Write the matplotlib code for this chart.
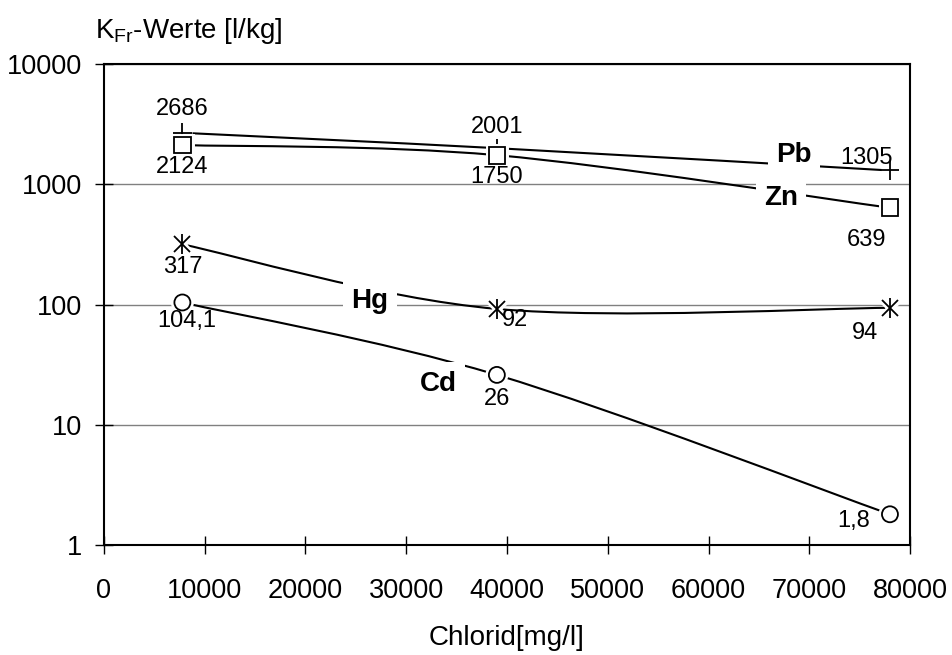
import numpy as np
import matplotlib
matplotlib.use("Agg")
import matplotlib.pyplot as plt
import matplotlib.patheffects as pe
from matplotlib.path import Path
from matplotlib.patches import PathPatch

plt.rcParams['font.family'] = ['Liberation Sans', 'DejaVu Sans']
plt.rcParams['mathtext.fontset'] = 'custom'
plt.rcParams['mathtext.rm'] = 'Liberation Sans'

# Chlorid concentration [mg/l]
chlorid = [7800, 39000, 78000]

# K_Fr values [l/kg] per metal
pb = [2686, 2001, 1305]
zn = [2124, 1750, 639]
hg = [317, 92, 94]
cd = [104.1, 26, 1.8]

pb_labels = ['2686', '2001', '1305']
zn_labels = ['2124', '1750', '639']
hg_labels = ['317', '92', '94']
cd_labels = ['104,1', '26', '1,8']

xticks = [0, 10000, 20000, 30000, 40000, 50000, 60000, 70000, 80000]
yticks = [1, 10, 100, 1000, 10000]


def smooth_path(xs, ys):
    # Catmull-Rom style Bezier segments, computed in log-y space
    lx = np.asarray(xs, float)
    ly = np.log10(np.asarray(ys, float))
    n = len(lx)
    verts = [(lx[0], ly[0])]
    codes = [Path.MOVETO]
    for i in range(n - 1):
        a = max(i - 1, 0)
        b = min(i + 2, n - 1)
        c1 = (lx[i] + (lx[i + 1] - lx[a]) / 6, ly[i] + (ly[i + 1] - ly[a]) / 6)
        c2 = (lx[i + 1] - (lx[b] - lx[i]) / 6, ly[i + 1] - (ly[b] - ly[i]) / 6)
        verts += [c1, c2, (lx[i + 1], ly[i + 1])]
        codes += [Path.CURVE4] * 3
    v = np.array(verts)
    v[:, 1] = 10 ** v[:, 1]
    return Path(v, codes)


fig = plt.figure(figsize=(9.52, 6.55), dpi=100)
ax = fig.add_axes([0.109, 0.168, 0.847, 0.734])
ax.set_yscale('log')
ax.set_xlim(0, 80000)
ax.set_ylim(1, 10000)

halo = [pe.Stroke(linewidth=5, foreground='white'), pe.Normal()]

series = [
    (pb, pb_labels, '+', 13.5, 'none'),
    (zn, zn_labels, 's', 12, 'white'),
    (hg, hg_labels, 'x', 11.5, 'none'),
    (cd, cd_labels, 'o', 11.5, 'white'),
]

for k, (vals, labs, mk, ms, fc) in enumerate(series):
    ax.add_patch(PathPatch(smooth_path(chlorid, vals), fill=False,
                           edgecolor='black', lw=1.5, zorder=2))
    ax.plot(chlorid, vals, ls='none', marker=mk, ms=ms, mfc=fc, mec='black',
            mew=1.3, zorder=4 + k, path_effects=halo)
    if mk == 'x':
        ax.plot(chlorid, vals, ls='none', marker='|', ms=14.5, mec='black',
                mew=1.3, zorder=4 + k)

# data label offsets in points (dx, dy)
offsets = {
    'pb': [(0, 17), (0, 15), (-17, 9)],
    'zn': [(0, -16), (0, -16), (-17, -23)],
    'hg': [(0, -16), (13, -8), (-18, -18)],
    'cd': [(3, -13), (0, -17), (-26, -5)],
}
for key, (vals, labs, *_ ) in zip(['pb', 'zn', 'hg', 'cd'], series):
    for x, y, t, (dx, dy) in zip(chlorid, vals, labs, offsets[key]):
        ax.annotate(t, (x, y), xytext=(dx, dy), textcoords='offset points',
                    ha='center', va='center', fontsize=17, zorder=10)

# series names
names = [('Pb', 68500, 1745), ('Zn', 67200, 764), ('Hg', 26400, 108), ('Cd', 33150, 22)]
for t, x, y in names:
    ax.text(x, y, t, fontsize=20, fontweight='bold', ha='center', va='center',
            zorder=12, bbox=dict(facecolor='white', edgecolor='none', pad=6))

ax.set_xticks(xticks)
ax.set_xticklabels([str(v) for v in xticks])
ax.set_yticks(yticks)
ax.set_yticklabels([str(v) for v in yticks])
ax.minorticks_off()
ax.tick_params(direction='inout', length=13, width=1, labelsize=19.5, pad=9)
ax.tick_params(axis='x', pad=17)

ax.grid(axis='y', color='#808080', lw=1)
ax.set_axisbelow(True)
for s in ax.spines.values():
    s.set_linewidth(1.5)
    s.set_color('black')

fig.text(95 / 952, 1 - 38 / 655, r'K$_{\mathrm{Fr}}$-Werte [l/kg]', fontsize=20,
         ha='left', va='baseline')
fig.text(507 / 952, 1 - 638 / 655, 'Chlorid[mg/l]', fontsize=20,
         ha='center', va='center')

fig.savefig('out.png', dpi=100)
